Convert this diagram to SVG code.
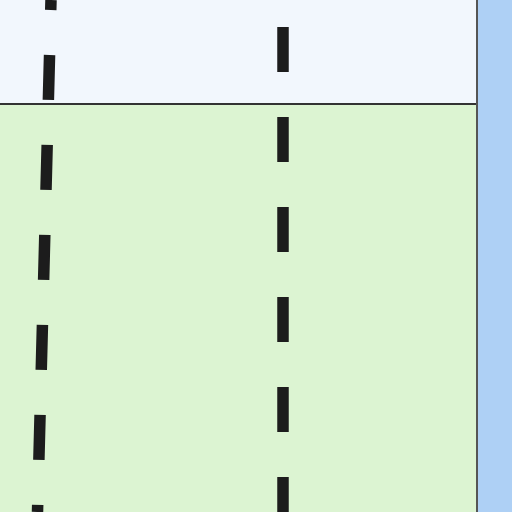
<svg xmlns="http://www.w3.org/2000/svg" width="512" height="512" viewBox="0 0 512 512">
<style>
.dash{fill:none;stroke:#1c1c1c;stroke-width:11.5;stroke-dasharray:45 45;stroke-linecap:butt}
</style>
<rect x="0" y="0" width="477" height="104" fill="#f2f7fd"/>
<rect x="0" y="104" width="477" height="408" fill="#dcf4d2"/>
<rect x="477" y="0" width="35" height="512" fill="#aed0f5"/>
<line x1="0" y1="104" x2="477" y2="104" stroke="#333" stroke-width="2"/>
<line x1="477" y1="0" x2="477" y2="512" stroke="#555" stroke-width="2"/>
<g id="connectors">
<path class="dash" d="M51,0 L37.5,512" stroke-dashoffset="35"/>
<path class="dash" d="M283,0 L283,512" stroke-dashoffset="63"/>
</g>
</svg>
